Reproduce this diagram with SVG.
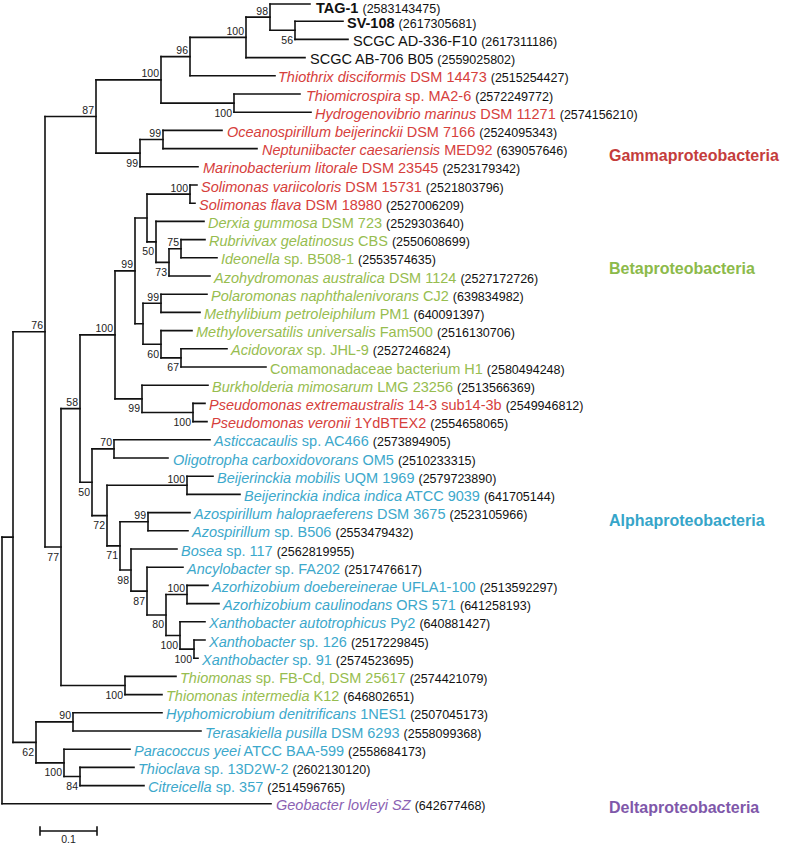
<svg xmlns="http://www.w3.org/2000/svg" width="785" height="844" viewBox="0 0 785 844">
<style>
.br{fill:none;stroke:#111;stroke-width:1.6;stroke-linecap:square}
text{font-family:"Liberation Sans",Arial,sans-serif}
.lf{font-size:14.5px}
.id{font-size:12.5px;fill:#111;font-style:normal}
.i{font-style:italic}
.k{fill:#111}.r{fill:#d6403c}.g{fill:#97bd4f}.b{fill:#3ca8cb}.p{fill:#8b62b3}
.bs{font-size:10.5px;fill:#222;text-anchor:end}
.grp{font-weight:bold;font-size:16px}
</style>
<rect width="785" height="844" fill="#fff"/>
<g id="branches" class="br">
<path d="M270 4V30.3M295 21.2V39.4M246 17.15V57.6M190 37.4V75.8M234 94V112.2M161 56.6V103.1M163 130.4V148.6M140 139.5V166.8M96 79.85V153.15M190 185V203.2M181 239.6V257.8M169 248.7V276M156 221.4V262.35M147 194.1V241.9M161 294.2V312.4M181 348.8V367M161 330.6V357.9M143 303.3V344.25M135 218V323.8M193 403.4V421.6M142 385.2V412.5M115 270.9V398.85M114 439.8V458M187 476.2V494.4M148 512.6V530.8M187 585.4V603.6M194 640V658.2M180 621.8V649.1M166 594.5V635.45M147 567.2V614.95M131 549V591.1M120 521.7V570.05M107 485.3V545.9M92 448.9V515.6M80 334.9V482.25M125 676.4V694.6M61 408.6V685.5M45 116.5V547.05M73 712.8V731M80 767.4V785.6M64 749.2V776.5M36 721.9V762.85M13 331.8V742.4M2 537.1V803.8"/>
<path d="M246 17.15H270M270 30.3H295M190 37.4H246M161 56.6H190M161 103.1H234M96 79.85H161M140 139.5H163M96 153.15H140M45 116.5H96M147 194.1H190M169 248.7H181M156 262.35H169M147 241.9H156M135 218H147M143 303.3H161M161 357.9H181M143 344.25H161M135 323.8H143M115 270.9H135M142 412.5H193M115 398.85H142M80 334.9H115M92 448.9H114M107 485.3H187M120 521.7H148M166 594.5H187M180 649.1H194M166 635.45H180M147 614.95H166M131 591.1H147M120 570.05H131M107 545.9H120M92 515.6H107M80 482.25H92M61 408.6H80M61 685.5H125M45 547.05H61M13 331.8H45M36 721.9H73M64 776.5H80M36 762.85H64M13 742.4H36M2 537.1H13"/>
<path d="M270 4H310M295 21.2H343M295 39.4H348M246 57.6H305M190 75.8H275M234 94H300M234 112.2H311M163 130.4H222M163 148.6H257M140 166.8H198M190 185H197M190 203.2H195M156 221.4H204M181 239.6H205M181 257.8H217M169 276H210M161 294.2H207M161 312.4H200M161 330.6H192M181 348.8H227M181 367H266M142 385.2H208M193 403.4H205M193 421.6H207M114 439.8H210M114 458H168M187 476.2H213M187 494.4H240M148 512.6H190M148 530.8H188M131 549H177M147 567.2H183M187 585.4H208M187 603.6H219M180 621.8H205M194 640H205M194 658.2H198M125 676.4H176M125 694.6H162M73 712.8H162M73 731H201M64 749.2H130M80 767.4H134M80 785.6H144M2 803.8H271"/>
</g>
<g id="scale-bar">
<path class="br" d="M40 831H97M40 827V835M97 827V835"/>
<text x="68.5" y="843" font-size="10.5" text-anchor="middle" fill="#222">0.1</text>
</g>
<g id="leaves">
<g id="leaf-1"><text class="lf k" x="316" y="12.5"><tspan font-weight="bold">TAG-1</tspan> <tspan class="id">(2583143475)</tspan></text></g>
<g id="leaf-2"><text class="lf k" x="347" y="27.7"><tspan font-weight="bold">SV-108</tspan> <tspan class="id">(2617305681)</tspan></text></g>
<g id="leaf-3"><text class="lf k" x="353" y="45.9">SCGC AD-336-F10 <tspan class="id">(2617311186)</tspan></text></g>
<g id="leaf-4"><text class="lf k" x="310" y="64.1">SCGC AB-706 B05 <tspan class="id">(2559025802)</tspan></text></g>
<g id="leaf-5"><text class="lf r" x="278" y="82.3"><tspan class="i">Thiothrix disciformis</tspan> DSM 14473 <tspan class="id">(2515254427)</tspan></text></g>
<g id="leaf-6"><text class="lf r" x="306" y="100.5"><tspan class="i">Thiomicrospira</tspan> sp. MA2-6 <tspan class="id">(2572249772)</tspan></text></g>
<g id="leaf-7"><text class="lf r" x="315" y="118.7"><tspan class="i">Hydrogenovibrio marinus</tspan> DSM 11271 <tspan class="id">(2574156210)</tspan></text></g>
<g id="leaf-8"><text class="lf r" x="227" y="136.9"><tspan class="i">Oceanospirillum beijerinckii</tspan> DSM 7166 <tspan class="id">(2524095343)</tspan></text></g>
<g id="leaf-9"><text class="lf r" x="262" y="155.1"><tspan class="i">Neptuniibacter caesariensis</tspan> MED92 <tspan class="id">(639057646)</tspan></text></g>
<g id="leaf-10"><text class="lf r" x="203" y="173.3"><tspan class="i">Marinobacterium litorale</tspan> DSM 23545 <tspan class="id">(2523179342)</tspan></text></g>
<g id="leaf-11"><text class="lf r" x="201" y="191.5"><tspan class="i">Solimonas variicoloris</tspan> DSM 15731 <tspan class="id">(2521803796)</tspan></text></g>
<g id="leaf-12"><text class="lf r" x="199" y="209.7"><tspan class="i">Solimonas flava</tspan> DSM 18980 <tspan class="id">(2527006209)</tspan></text></g>
<g id="leaf-13"><text class="lf g" x="208" y="227.9"><tspan class="i">Derxia gummosa</tspan> DSM 723 <tspan class="id">(2529303640)</tspan></text></g>
<g id="leaf-14"><text class="lf g" x="209" y="246.1"><tspan class="i">Rubrivivax gelatinosus</tspan> CBS <tspan class="id">(2550608699)</tspan></text></g>
<g id="leaf-15"><text class="lf g" x="221" y="264.3"><tspan class="i">Ideonella</tspan> sp. B508-1 <tspan class="id">(2553574635)</tspan></text></g>
<g id="leaf-16"><text class="lf g" x="214" y="282.5"><tspan class="i">Azohydromonas australica</tspan> DSM 1124 <tspan class="id">(2527172726)</tspan></text></g>
<g id="leaf-17"><text class="lf g" x="211" y="300.7"><tspan class="i">Polaromonas naphthalenivorans</tspan> CJ2 <tspan class="id">(639834982)</tspan></text></g>
<g id="leaf-18"><text class="lf g" x="204" y="318.9"><tspan class="i">Methylibium petroleiphilum</tspan> PM1 <tspan class="id">(640091397)</tspan></text></g>
<g id="leaf-19"><text class="lf g" x="196" y="337.1"><tspan class="i">Methyloversatilis universalis</tspan> Fam500 <tspan class="id">(2516130706)</tspan></text></g>
<g id="leaf-20"><text class="lf g" x="231" y="355.3"><tspan class="i">Acidovorax</tspan> sp. JHL-9 <tspan class="id">(2527246824)</tspan></text></g>
<g id="leaf-21"><text class="lf g" x="270" y="373.5">Comamonadaceae bacterium H1 <tspan class="id">(2580494248)</tspan></text></g>
<g id="leaf-22"><text class="lf g" x="212" y="391.7"><tspan class="i">Burkholderia mimosarum</tspan> LMG 23256 <tspan class="id">(2513566369)</tspan></text></g>
<g id="leaf-23"><text class="lf r" x="209" y="409.9"><tspan class="i">Pseudomonas extremaustralis</tspan> 14-3 sub14-3b <tspan class="id">(2549946812)</tspan></text></g>
<g id="leaf-24"><text class="lf r" x="211" y="428.1"><tspan class="i">Pseudomonas veronii</tspan> 1YdBTEX2 <tspan class="id">(2554658065)</tspan></text></g>
<g id="leaf-25"><text class="lf b" x="214" y="446.3"><tspan class="i">Asticcacaulis</tspan> sp. AC466 <tspan class="id">(2573894905)</tspan></text></g>
<g id="leaf-26"><text class="lf b" x="173" y="464.5"><tspan class="i">Oligotropha carboxidovorans</tspan> OM5 <tspan class="id">(2510233315)</tspan></text></g>
<g id="leaf-27"><text class="lf b" x="217" y="482.7"><tspan class="i">Beijerinckia mobilis</tspan> UQM 1969 <tspan class="id">(2579723890)</tspan></text></g>
<g id="leaf-28"><text class="lf b" x="244" y="500.9"><tspan class="i">Beijerinckia indica indica</tspan> ATCC 9039 <tspan class="id">(641705144)</tspan></text></g>
<g id="leaf-29"><text class="lf b" x="194" y="519.1"><tspan class="i">Azospirillum halopraeferens</tspan> DSM 3675 <tspan class="id">(2523105966)</tspan></text></g>
<g id="leaf-30"><text class="lf b" x="192" y="537.3"><tspan class="i">Azospirillum</tspan> sp. B506 <tspan class="id">(2553479432)</tspan></text></g>
<g id="leaf-31"><text class="lf b" x="181" y="555.5"><tspan class="i">Bosea</tspan> sp. 117 <tspan class="id">(2562819955)</tspan></text></g>
<g id="leaf-32"><text class="lf b" x="187" y="573.7"><tspan class="i">Ancylobacter</tspan> sp. FA202 <tspan class="id">(2517476617)</tspan></text></g>
<g id="leaf-33"><text class="lf b" x="212" y="591.9"><tspan class="i">Azorhizobium doebereinerae</tspan> UFLA1-100 <tspan class="id">(2513592297)</tspan></text></g>
<g id="leaf-34"><text class="lf b" x="223" y="610.1"><tspan class="i">Azorhizobium caulinodans</tspan> ORS 571 <tspan class="id">(641258193)</tspan></text></g>
<g id="leaf-35"><text class="lf b" x="209" y="628.3"><tspan class="i">Xanthobacter autotrophicus</tspan> Py2 <tspan class="id">(640881427)</tspan></text></g>
<g id="leaf-36"><text class="lf b" x="209" y="646.5"><tspan class="i">Xanthobacter</tspan> sp. 126 <tspan class="id">(2517229845)</tspan></text></g>
<g id="leaf-37"><text class="lf b" x="202" y="664.7"><tspan class="i">Xanthobacter</tspan> sp. 91 <tspan class="id">(2574523695)</tspan></text></g>
<g id="leaf-38"><text class="lf g" x="180" y="682.9"><tspan class="i">Thiomonas</tspan> sp. FB-Cd, DSM 25617 <tspan class="id">(2574421079)</tspan></text></g>
<g id="leaf-39"><text class="lf g" x="166" y="701.1"><tspan class="i">Thiomonas intermedia</tspan> K12 <tspan class="id">(646802651)</tspan></text></g>
<g id="leaf-40"><text class="lf b" x="166" y="719.3"><tspan class="i">Hyphomicrobium denitrificans</tspan> 1NES1 <tspan class="id">(2507045173)</tspan></text></g>
<g id="leaf-41"><text class="lf b" x="205" y="737.5"><tspan class="i">Terasakiella pusilla</tspan> DSM 6293 <tspan class="id">(2558099368)</tspan></text></g>
<g id="leaf-42"><text class="lf b" x="134" y="755.7"><tspan class="i">Paracoccus yeei</tspan> ATCC BAA-599 <tspan class="id">(2558684173)</tspan></text></g>
<g id="leaf-43"><text class="lf b" x="138" y="773.9"><tspan class="i">Thioclava</tspan> sp. 13D2W-2 <tspan class="id">(2602130120)</tspan></text></g>
<g id="leaf-44"><text class="lf b" x="148" y="792.1"><tspan class="i">Citreicella</tspan> sp. 357 <tspan class="id">(2514596765)</tspan></text></g>
<g id="leaf-45"><text class="lf p" x="276" y="810.3"><tspan class="i">Geobacter lovleyi SZ</tspan> <tspan class="id">(642677468)</tspan></text></g>
</g>
<g id="bootstrap">
<g id="n98"><text class="bs" x="268" y="14.5">98</text></g>
<g id="n56"><text class="bs" x="293" y="43.8">56</text></g>
<g id="n100a"><text class="bs" x="244" y="34.8">100</text></g>
<g id="n96"><text class="bs" x="188" y="54.2">96</text></g>
<g id="n100b"><text class="bs" x="159" y="77.3">100</text></g>
<g id="n87"><text class="bs" x="94" y="114">87</text></g>
<g id="n100c"><text class="bs" x="232" y="116.6">100</text></g>
<g id="n99a"><text class="bs" x="161" y="137">99</text></g>
<g id="n99b"><text class="bs" x="138" y="166.6">99</text></g>
<g id="n100sol"><text class="bs" x="188" y="191.6">100</text></g>
<g id="n50b"><text class="bs" x="154" y="255.4">50</text></g>
<g id="n75"><text class="bs" x="179" y="246.2">75</text></g>
<g id="n73"><text class="bs" x="167" y="275.8">73</text></g>
<g id="n99s"><text class="bs" x="133" y="268.4">99</text></g>
<g id="n99p"><text class="bs" x="159" y="300.8">99</text></g>
<g id="n60"><text class="bs" x="159" y="357.7">60</text></g>
<g id="n67"><text class="bs" x="179" y="371.4">67</text></g>
<g id="n100beta"><text class="bs" x="113" y="332.4">100</text></g>
<g id="n99c"><text class="bs" x="140" y="412.3">99</text></g>
<g id="n100pse"><text class="bs" x="191" y="426">100</text></g>
<g id="n58"><text class="bs" x="78" y="406.1">58</text></g>
<g id="n50"><text class="bs" x="90" y="495.7">50</text></g>
<g id="n70"><text class="bs" x="112" y="446.4">70</text></g>
<g id="n72"><text class="bs" x="105" y="529.1">72</text></g>
<g id="n100beij"><text class="bs" x="185" y="482.8">100</text></g>
<g id="n71"><text class="bs" x="118" y="559.4">71</text></g>
<g id="n99azo"><text class="bs" x="146" y="519.2">99</text></g>
<g id="n98a"><text class="bs" x="129" y="583.5">98</text></g>
<g id="n87a"><text class="bs" x="145" y="604.6">87</text></g>
<g id="n80"><text class="bs" x="164" y="628.4">80</text></g>
<g id="n100azorh"><text class="bs" x="185" y="592">100</text></g>
<g id="n100x1"><text class="bs" x="178" y="648.9">100</text></g>
<g id="n100x2"><text class="bs" x="192" y="662.6">100</text></g>
<g id="n77"><text class="bs" x="59" y="560.5">77</text></g>
<g id="n100thm"><text class="bs" x="123" y="699">100</text></g>
<g id="n76"><text class="bs" x="43" y="329.3">76</text></g>
<g id="n90"><text class="bs" x="71" y="719.4">90</text></g>
<g id="n62"><text class="bs" x="34" y="755.9">62</text></g>
<g id="n100p"><text class="bs" x="62" y="776.3">100</text></g>
<g id="n84"><text class="bs" x="78" y="790">84</text></g>
</g>
<g id="groups">
<g id="grp-gamma"><text class="grp" x="609" y="161" fill="#c43c3c">Gammaproteobacteria</text></g>
<g id="grp-beta"><text class="grp" x="609" y="274" fill="#8cba4a">Betaproteobacteria</text></g>
<g id="grp-alpha"><text class="grp" x="609" y="526" fill="#36a5c9">Alphaproteobacteria</text></g>
<g id="grp-delta"><text class="grp" x="609" y="813" fill="#7f58aa">Deltaproteobacteria</text></g>
</g>
</svg>
